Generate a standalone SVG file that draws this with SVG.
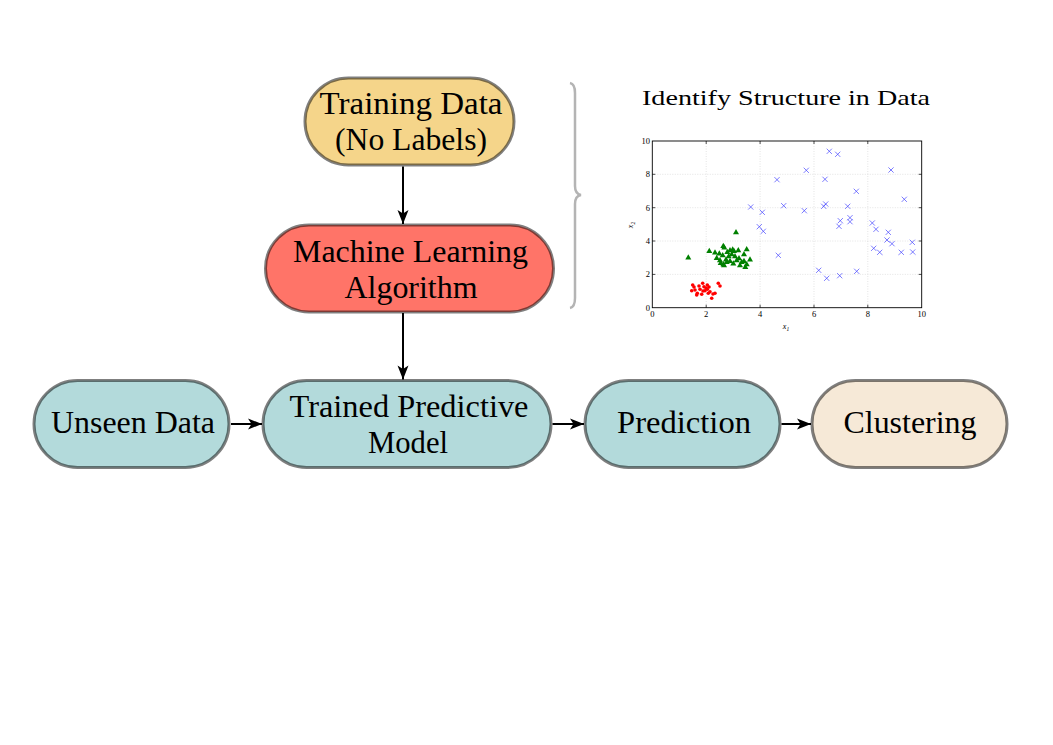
<svg xmlns="http://www.w3.org/2000/svg" xmlns:xlink="http://www.w3.org/1999/xlink" width="1053" height="745" viewBox="0 0 1053 745">
<style>
.node{stroke:#000;stroke-opacity:0.5;stroke-width:3}
.lbl{font-family:"Liberation Serif","Times New Roman",serif;font-size:30.5px;fill:#000;text-anchor:middle}
.conn{stroke:#000;stroke-width:2;fill:none}
.tick{font-family:"Liberation Serif","Times New Roman",serif;font-size:8.5px;fill:#000}
.grid{stroke:#d8d8d8;stroke-width:0.7;stroke-dasharray:1,1.5}
.bx{stroke:#4848ff;stroke-width:0.9;stroke-opacity:0.8}
</style>
<defs>
<marker id="arr" markerUnits="userSpaceOnUse" markerWidth="16" markerHeight="14" refX="14" refY="6" orient="auto" overflow="visible">
<path d="M0,0.5 L14,6 L0,11.5 L3.5,6 Z" fill="#000"/>
</marker>
<path id="tri" d="M0,-3 L3,2.2 L-3,2.2 Z" fill="#008000"/>
<path id="cx" d="M-2.6,-2.6 L2.6,2.6 M-2.6,2.6 L2.6,-2.6" class="bx"/>
<circle id="dot" r="1.8" fill="#ff0000"/>
</defs>
<rect width="1053" height="745" fill="#fff"/>

<g id="connectors">
<line class="conn" x1="403" y1="166.5" x2="403" y2="224" marker-end="url(#arr)"/>
<line class="conn" x1="403" y1="313" x2="403" y2="379.5" marker-end="url(#arr)"/>
<line class="conn" x1="231" y1="424" x2="262" y2="424" marker-end="url(#arr)"/>
<line class="conn" x1="552.5" y1="424" x2="584" y2="424" marker-end="url(#arr)"/>
<line class="conn" x1="781.5" y1="424" x2="811" y2="424" marker-end="url(#arr)"/>
</g>

<g id="training-data">
<rect class="node" x="305" y="78" width="209" height="87" rx="43.5" fill="#f5d58a"/>
<text class="lbl" x="411" y="113.5" textLength="183" lengthAdjust="spacingAndGlyphs">Training Data</text>
<text class="lbl" x="411" y="150" textLength="152" lengthAdjust="spacingAndGlyphs">(No Labels)</text>
</g>

<g id="ml-algorithm">
<rect class="node" x="265.5" y="225" width="288" height="87" rx="43.5" fill="#ff7468"/>
<text class="lbl" x="410.5" y="261.5" textLength="235" lengthAdjust="spacingAndGlyphs">Machine Learning</text>
<text class="lbl" x="411" y="297.5" textLength="133" lengthAdjust="spacingAndGlyphs">Algorithm</text>
</g>

<g id="unseen-data">
<rect class="node" x="34" y="380.5" width="195" height="87" rx="43.5" fill="#b3dadb"/>
<text class="lbl" x="133" y="433" textLength="164" lengthAdjust="spacingAndGlyphs">Unseen Data</text>
</g>

<g id="trained-model">
<rect class="node" x="263" y="380.5" width="288" height="87" rx="43.5" fill="#b3dadb"/>
<text class="lbl" x="409" y="417" textLength="239" lengthAdjust="spacingAndGlyphs">Trained Predictive</text>
<text class="lbl" x="408" y="453" textLength="80" lengthAdjust="spacingAndGlyphs">Model</text>
</g>

<g id="prediction">
<rect class="node" x="585" y="380.5" width="195" height="87" rx="43.5" fill="#b3dadb"/>
<text class="lbl" x="684" y="433" textLength="134" lengthAdjust="spacingAndGlyphs">Prediction</text>
</g>

<g id="clustering">
<rect class="node" x="812" y="380.5" width="195" height="87" rx="43.5" fill="#f6e9d7"/>
<text class="lbl" x="910" y="433" textLength="133" lengthAdjust="spacingAndGlyphs">Clustering</text>
</g>

<g id="brace">
<path d="M570,83 Q575,84 575,93 L575,186 Q575,194 581,195 Q575,196 575,204 L575,298 Q575,307 570,308" fill="none" stroke="#b4b4b4" stroke-width="2.5"/>
</g>

<g id="plot">
<text x="786" y="105" font-family="'Liberation Serif','Times New Roman',serif" font-size="21" text-anchor="middle" textLength="288" lengthAdjust="spacingAndGlyphs">Identify Structure in Data</text>
<g class="grid">
<line x1="706.2" y1="141" x2="706.2" y2="307.7"/>
<line x1="760.1" y1="141" x2="760.1" y2="307.7"/>
<line x1="814" y1="141" x2="814" y2="307.7"/>
<line x1="867.8" y1="141" x2="867.8" y2="307.7"/>
<line x1="652.3" y1="274.4" x2="921.7" y2="274.4"/>
<line x1="652.3" y1="241" x2="921.7" y2="241"/>
<line x1="652.3" y1="207.7" x2="921.7" y2="207.7"/>
<line x1="652.3" y1="174.3" x2="921.7" y2="174.3"/>
</g>
<g>
<use href="#dot" x="692.7" y="285"/><use href="#dot" x="702.7" y="283.3"/><use href="#dot" x="707.3" y="285"/>
<use href="#dot" x="718.3" y="283.3"/><use href="#dot" x="720" y="286"/><use href="#dot" x="695" y="290"/>
<use href="#dot" x="700" y="289.3"/><use href="#dot" x="705" y="290.7"/><use href="#dot" x="707.3" y="289.3"/>
<use href="#dot" x="710" y="291.7"/><use href="#dot" x="715" y="293.3"/><use href="#dot" x="696.7" y="295"/>
<use href="#dot" x="701.7" y="294.3"/><use href="#dot" x="711.7" y="298.3"/><use href="#dot" x="708.3" y="293.3"/>
<use href="#dot" x="704" y="286.7"/><use href="#dot" x="697.3" y="293.3"/><use href="#dot" x="691.7" y="290.7"/>
<use href="#dot" x="703" y="291"/><use href="#dot" x="706" y="288"/><use href="#dot" x="713" y="294"/>
<use href="#dot" x="694" y="287"/><use href="#dot" x="699" y="286"/><use href="#dot" x="709" y="287"/>
</g>
<g>
<use href="#tri" x="688.3" y="257.3"/><use href="#tri" x="736" y="232"/><use href="#tri" x="709.3" y="250.7"/>
<use href="#tri" x="715" y="252.3"/><use href="#tri" x="719.3" y="253.3"/><use href="#tri" x="716.7" y="257.7"/>
<use href="#tri" x="723.3" y="245.7"/><use href="#tri" x="724.3" y="247.3"/><use href="#tri" x="722.7" y="255"/>
<use href="#tri" x="727.3" y="251.7"/><use href="#tri" x="730" y="250"/><use href="#tri" x="732.7" y="249.3"/>
<use href="#tri" x="734" y="250.7"/><use href="#tri" x="738.3" y="250"/><use href="#tri" x="746.7" y="249"/>
<use href="#tri" x="720.7" y="262.7"/><use href="#tri" x="723.3" y="264"/><use href="#tri" x="726" y="259.3"/>
<use href="#tri" x="728.7" y="256"/><use href="#tri" x="731.7" y="254"/><use href="#tri" x="733.3" y="263.3"/>
<use href="#tri" x="736.7" y="260"/><use href="#tri" x="739" y="258"/><use href="#tri" x="740" y="265"/>
<use href="#tri" x="744" y="260.7"/><use href="#tri" x="745.3" y="266.7"/><use href="#tri" x="746.7" y="264"/>
<use href="#tri" x="750" y="259.3"/><use href="#tri" x="744" y="254"/><use href="#tri" x="741.7" y="261.7"/>
<use href="#tri" x="726.7" y="261.7"/><use href="#tri" x="735" y="256"/><use href="#tri" x="720" y="260"/>
<use href="#tri" x="724" y="265"/><use href="#tri" x="730" y="260.7"/>
</g>
<g>
<use href="#cx" x="750.7" y="207"/><use href="#cx" x="762.3" y="212.3"/><use href="#cx" x="759.3" y="226.7"/>
<use href="#cx" x="763.3" y="231.3"/><use href="#cx" x="777" y="179.7"/><use href="#cx" x="783.7" y="205.7"/>
<use href="#cx" x="778.3" y="255.3"/><use href="#cx" x="806.3" y="170.3"/><use href="#cx" x="804.3" y="210.7"/>
<use href="#cx" x="829.3" y="151.3"/><use href="#cx" x="837.7" y="154.3"/><use href="#cx" x="825" y="179.3"/>
<use href="#cx" x="825.7" y="204"/><use href="#cx" x="823.7" y="206.3"/><use href="#cx" x="856.3" y="191.3"/>
<use href="#cx" x="847.7" y="206.3"/><use href="#cx" x="840.3" y="220.7"/><use href="#cx" x="839" y="226.3"/>
<use href="#cx" x="850" y="217.7"/><use href="#cx" x="850" y="221.7"/><use href="#cx" x="818.7" y="270.3"/>
<use href="#cx" x="826.7" y="278.3"/><use href="#cx" x="839.7" y="275.7"/><use href="#cx" x="856.7" y="271.3"/>
<use href="#cx" x="891" y="170"/><use href="#cx" x="904.3" y="199.3"/><use href="#cx" x="872.3" y="223"/>
<use href="#cx" x="876" y="229.3"/><use href="#cx" x="888.3" y="232.3"/><use href="#cx" x="887" y="240"/>
<use href="#cx" x="892" y="243.7"/><use href="#cx" x="873.7" y="248.3"/><use href="#cx" x="879.7" y="252.3"/>
<use href="#cx" x="901.3" y="252.3"/><use href="#cx" x="912.3" y="242.3"/><use href="#cx" x="912.7" y="252"/>
</g>
<rect x="652.3" y="141" width="269.4" height="166.7" fill="none" stroke="#000" stroke-width="0.9"/>
<g stroke="#000" stroke-width="0.7">
<path d="M706.2,307.7v-3M760.1,307.7v-3M814,307.7v-3M867.8,307.7v-3M706.2,141v3M760.1,141v3M814,141v3M867.8,141v3"/>
<path d="M652.3,274.4h3M652.3,241h3M652.3,207.7h3M652.3,174.3h3M921.7,274.4h-3M921.7,241h-3M921.7,207.7h-3M921.7,174.3h-3"/>
</g>
<g class="tick" text-anchor="middle">
<text x="652.3" y="316.5">0</text><text x="706.2" y="316.5">2</text><text x="760.1" y="316.5">4</text>
<text x="814" y="316.5">6</text><text x="867.8" y="316.5">8</text><text x="921.7" y="316.5">10</text>
</g>
<g class="tick" text-anchor="end">
<text x="650" y="310.5">0</text><text x="650" y="277.2">2</text><text x="650" y="243.8">4</text>
<text x="650" y="210.5">6</text><text x="650" y="177.1">8</text><text x="650" y="143.8">10</text>
</g>
<text x="786" y="329" font-family="'Liberation Serif','Times New Roman',serif" font-size="8" font-style="italic" text-anchor="middle">x<tspan font-size="5.5" dy="1.5">1</tspan></text>
<text transform="translate(633,225) rotate(-90)" font-family="'Liberation Serif','Times New Roman',serif" font-size="8" font-style="italic" text-anchor="middle">x<tspan font-size="5.5" dy="1.5">2</tspan></text>
</g>
</svg>
